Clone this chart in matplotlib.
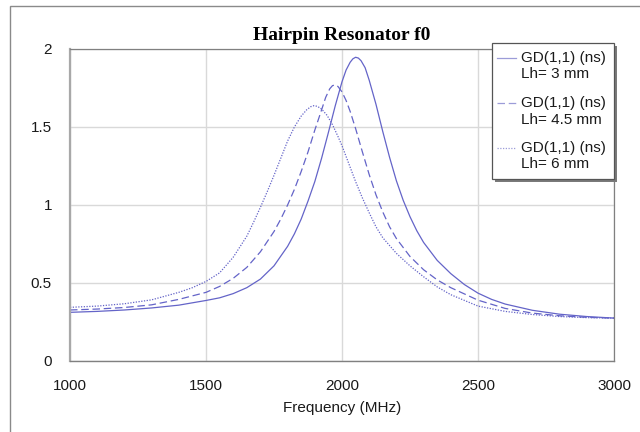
import matplotlib
matplotlib.use("Agg")
import matplotlib.pyplot as plt
from matplotlib.patches import Rectangle
from matplotlib.lines import Line2D

# group delay GD(1,1) in ns
freq_a = [1000, 1100, 1200, 1300, 1400, 1500, 1550, 1600, 1650, 1700, 1750, 1800, 1825, 1850, 1875,
          1900, 1925, 1950, 1975, 2000, 2015, 2030, 2040, 2050, 2060, 2070, 2085, 2100, 2125, 2150,
          2175, 2200, 2225, 2250, 2275, 2300, 2350, 2400, 2450, 2500, 2550, 2600, 2700, 2800, 2900, 3000]
gd_3mm = [0.312, 0.318, 0.327, 0.340, 0.358, 0.388, 0.405, 0.432, 0.470, 0.525, 0.610, 0.735, 0.815,
          0.910, 1.025, 1.150, 1.300, 1.465, 1.635, 1.790, 1.865, 1.915, 1.937, 1.947, 1.942, 1.925,
          1.880, 1.800, 1.645, 1.470, 1.305, 1.155, 1.030, 0.925, 0.835, 0.760, 0.645, 0.560, 0.490,
          0.435, 0.395, 0.365, 0.325, 0.300, 0.285, 0.275]

freq_b = [1000, 1100, 1200, 1300, 1400, 1500, 1550, 1600, 1650, 1700, 1750, 1775, 1800, 1825, 1850,
          1875, 1900, 1925, 1940, 1955, 1965, 1975, 1985, 2000, 2015, 2030, 2050, 2075, 2100, 2125,
          2150, 2175, 2200, 2250, 2300, 2350, 2400, 2500, 2600, 2700, 2800, 2900, 3000]
gd_45mm = [0.327, 0.333, 0.343, 0.360, 0.395, 0.440, 0.478, 0.530, 0.600, 0.700, 0.830, 0.910, 1.000,
           1.100, 1.215, 1.340, 1.480, 1.610, 1.690, 1.745, 1.765, 1.770, 1.760, 1.725, 1.670, 1.600,
           1.490, 1.340, 1.195, 1.065, 0.955, 0.860, 0.785, 0.670, 0.585, 0.520, 0.470, 0.390, 0.337,
           0.307, 0.290, 0.280, 0.275]

freq_c = [1000, 1100, 1200, 1300, 1400, 1450, 1500, 1550, 1600, 1650, 1675, 1700, 1725, 1750, 1775,
          1800, 1825, 1850, 1870, 1885, 1897, 1910, 1925, 1945, 1965, 1985, 2000, 2025, 2050, 2075,
          2100, 2125, 2150, 2200, 2250, 2300, 2350, 2400, 2500, 2600, 2700, 2800, 2900, 3000]
gd_6mm = [0.344, 0.352, 0.367, 0.392, 0.440, 0.470, 0.510, 0.565, 0.665, 0.800, 0.890, 0.985, 1.085,
          1.190, 1.300, 1.410, 1.500, 1.570, 1.610, 1.630, 1.637, 1.632, 1.615, 1.575, 1.515, 1.440,
          1.380, 1.265, 1.150, 1.045, 0.950, 0.860, 0.790, 0.690, 0.610, 0.540, 0.475, 0.425, 0.352,
          0.318, 0.298, 0.285, 0.278, 0.275]

series_name = "GD(1,1) (ns)"
lh_labels = ["Lh= 3 mm", "Lh= 4.5 mm", "Lh= 6 mm"]
x_ticks = [1000, 1500, 2000, 2500, 3000]
y_ticks = [0, 0.5, 1, 1.5, 2]
y_ticklabels = ["0", "0.5", "1", "1.5", "2"]

W, H = 640, 432
col = "#6464c8"
styles = [dict(ls="-"), dict(dashes=(6, 3)), dict(dashes=(1, 1.2))]

plt.rcParams['font.family'] = ['Liberation Sans', 'DejaVu Sans']

fig = plt.figure(figsize=(6.4, 4.32), dpi=100)
ax = fig.add_axes([70 / W, 1 - 361 / H, 544 / W, 312 / H])

curves = [(freq_a, gd_3mm), (freq_b, gd_45mm), (freq_c, gd_6mm)]
for (f, g), st in zip(curves, styles):
    ax.plot(f, g, color=col, lw=0.9, **st)

ax.set_xlim(1000, 3000)
ax.set_ylim(0, 2)
ax.set_xticks(x_ticks)
ax.set_xticklabels([str(t) for t in x_ticks])
ax.set_yticks(y_ticks)
ax.set_yticklabels(y_ticklabels)
ax.tick_params(length=0, labelsize=11, labelcolor="#1a1a1a")
ax.tick_params(axis="y", pad=13)
ax.tick_params(axis="x", pad=13)
ax.grid(True, color="#d9d9d9", lw=1)
ax.set_axisbelow(True)
ax.set_xlabel("Frequency (MHz)", fontsize=11, color="#1a1a1a", labelpad=6)

ax.spines["left"].set_color("#a8a8a8")
ax.spines["left"].set_linewidth(1.6)
ax.spines["bottom"].set_color("#808080")
ax.spines["bottom"].set_linewidth(1.0)
ax.spines["top"].set_color("#808080")
ax.spines["top"].set_linewidth(0.9)
ax.spines["right"].set_color("#808080")
ax.spines["right"].set_linewidth(0.9)


def fx(x):
    return x / W


def fy(y):
    return 1 - y / H


# outer frame of the chart, runs off the right and bottom edges
fig.patches.append(Rectangle((fx(10), -0.5), 2.0, fy(6) + 0.5, transform=fig.transFigure,
                             fill=False, ec="#8a8a8a", lw=1))

fig.text(fx(342), fy(35), "Hairpin Resonator f0", ha="center", va="center",
         family="Liberation Serif", weight="bold", fontsize=14)

# legend drawn by hand
fig.patches.append(Rectangle((fx(495), fy(182)), 122 / W, 136 / H, transform=fig.transFigure,
                             fc="#7a7a7a", ec="none", zorder=5))
fig.patches.append(Rectangle((fx(492), fy(179)), 122 / W, 136 / H, transform=fig.transFigure,
                             fc="white", ec="#555555", lw=0.9, zorder=6))
rows = [58, 103, 148]
for y0, lab, st in zip(rows, lh_labels, styles):
    fig.lines.append(Line2D([fx(497), fx(516)], [fy(y0), fy(y0)], transform=fig.transFigure,
                            color="#9c9cd8", lw=0.9, zorder=7, **st))
    fig.text(fx(521), fy(y0), series_name, ha="left", va="center", fontsize=11, color="#1a1a1a", zorder=8)
    fig.text(fx(521), fy(y0 + 16.5), lab, ha="left", va="center", fontsize=11, color="#1a1a1a", zorder=8)

fig.savefig("out.png", dpi=100)
